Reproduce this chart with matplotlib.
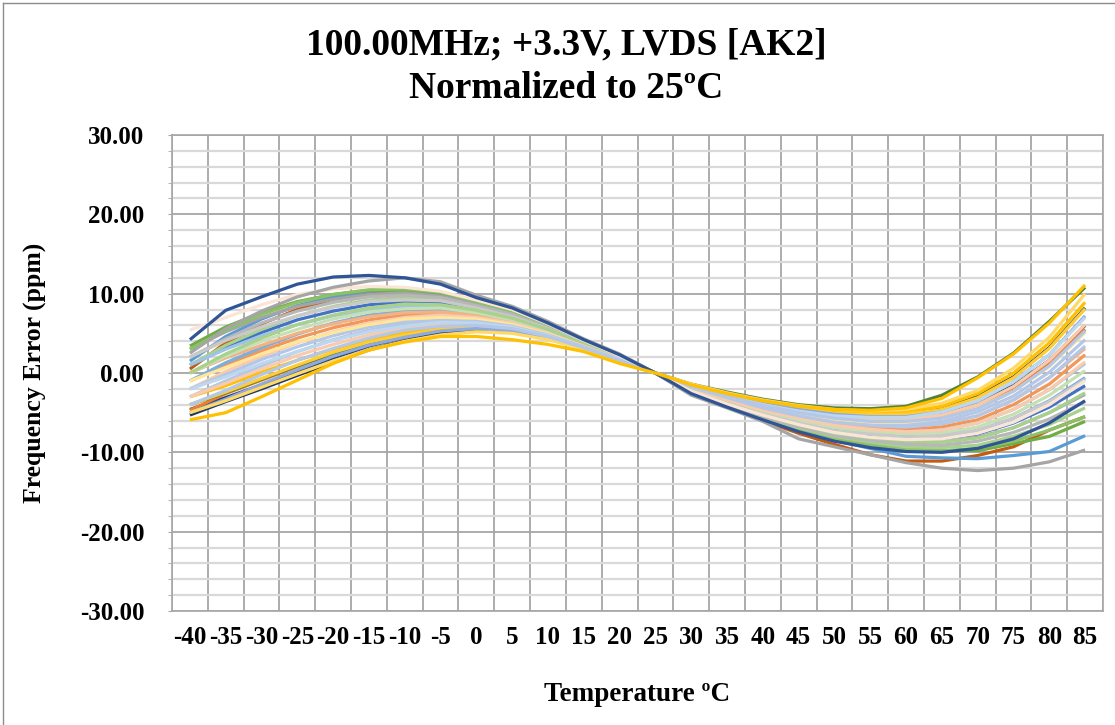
import matplotlib
matplotlib.use("Agg")
import matplotlib.pyplot as plt
from matplotlib.ticker import MultipleLocator, FixedLocator, FuncFormatter
from matplotlib.lines import Line2D

# ---------------- data ----------------
temps = [-40, -35, -30, -25, -20, -15, -10, -5, 0, 5, 10, 15, 20, 25,
         30, 35, 40, 45, 50, 55, 60, 65, 70, 75, 80, 85]
temp_labels = [str(t) for t in temps]

s_darkblue = [4.2, 7.9, 9.6, 11.2, 12.1, 12.3, 12.0, 11.2, 9.5, 8.2, 6.3, 4.2, 2.3, 0,
              -2.6, -4.3, -5.9, -7.4, -8.6, -9.4, -9.9, -10.0, -9.5, -8.3, -6.3, -3.5]
s_gray = [2.5, 5.6, 7.8, 9.6, 10.8, 11.6, 12.0, 11.5, 9.8, 8.4, 6.5, 4.3, 2.4, 0,
          -2.8, -4.4, -6.1, -8.3, -9.3, -10.3, -11.3, -12.0, -12.3, -12.0, -11.2, -9.7]
s_peach = [5.4, 7.0, 8.6, 9.9, 10.6, 10.9, 10.8, 10.3, 9.2, 8.0, 6.2, 4.1, 2.2, 0,
           -2.3, -3.9, -5.3, -6.5, -7.5, -8.1, -8.4, -8.3, -7.6, -6.2, -4.0, -1.0]
s_yellow = [-5.9, -5.0, -3.0, -0.9, 1.2, 2.9, 3.9, 4.6, 4.6, 4.2, 3.6, 2.7, 1.2, 0,
            -1.5, -2.6, -3.5, -4.2, -4.6, -4.7, -4.4, -3.2, -0.6, 2.4, 6.3, 11.1]
s_blue = [1.5, 4.6, 6.8, 8.5, 9.6, 10.3, 10.5, 10.1, 9.0, 7.8, 6.0, 4.0, 2.1, 0,
          -2.6, -4.2, -5.8, -7.3, -8.5, -9.5, -10.5, -10.7, -10.8, -10.4, -9.9, -7.9]
s_orange = [0.5, 3.8, 6.2, 8.0, 9.3, 10.0, 10.3, 10.0, 9.0, 7.8, 6.0, 4.0, 2.1, 0,
            -2.6, -4.3, -6.0, -7.6, -9.0, -10.3, -11.1, -11.1, -10.4, -9.3, -7.2, -5.5]
s_green = [3.4, 5.8, 7.6, 9.0, 9.9, 10.4, 10.4, 10.0, 9.0, 7.7, 5.9, 3.9, 2.0, 0,
           -2.5, -4.1, -5.6, -7.0, -8.2, -9.0, -9.6, -9.8, -9.8, -8.9, -8.0, -6.1]
s_navy1 = [-5.3, -3.6, -2.0, -0.3, 1.4, 2.9, 4.1, 5.0, 5.4, 5.2, 4.4, 3.1, 1.6, 0,
           -1.5, -2.6, -3.6, -4.3, -4.8, -5.1, -5.0, -4.3, -2.9, -0.5, 3.2, 8.2]
s_navy2 = [-4.6, -3.1, -1.5, 0.2, 1.9, 3.4, 4.5, 5.3, 5.6, 5.3, 4.5, 3.2, 1.6, 0,
           -1.5, -2.7, -3.7, -4.5, -5.1, -5.4, -5.4, -4.9, -3.7, -1.6, 1.6, 6.0]
s_orange2 = [-4.7, -2.6, -0.9, 0.8, 2.5, 3.9, 5.0, 5.8, 6.0, 5.6, 4.7, 3.3, 1.7, 0,
             -1.6, -2.8, -3.9, -4.8, -5.5, -5.9, -5.9, -5.4, -4.2, -2.0, 1.2, 5.5]
s_green2 = [-4.0, -2.5, -0.8, 0.9, 2.4, 3.7, 4.7, 5.4, 5.6, 5.3, 4.5, 3.2, 1.6, 0,
            -1.4, -2.4, -3.3, -4.0, -4.4, -4.5, -4.2, -2.8, -0.5, 2.5, 6.5, 10.8]

u01 = [2.0, 4.3, 6.3, 7.8, 8.9, 9.6, 9.8, 9.5, 8.5, 7.4, 5.7, 3.8, 2.0, 0,
       -2.4, -4.0, -5.5, -6.8, -7.9, -8.5, -9.0, -9.1, -8.6, -7.5, -5.8, -3.6]
u02 = [3.0, 5.2, 7.0, 8.4, 9.3, 9.9, 10.1, 9.7, 8.7, 7.4, 5.8, 3.8, 2.0, 0,
       -2.3, -4.0, -5.5, -6.7, -7.7, -8.3, -8.7, -8.7, -8.1, -6.9, -5.0, -2.7]
u03 = [1.0, 3.5, 5.5, 7.2, 8.4, 9.2, 9.5, 9.3, 8.4, 7.3, 5.7, 3.8, 2.0, 0,
       -2.4, -4.0, -5.6, -6.9, -8.0, -8.7, -9.3, -9.4, -9.1, -8.0, -6.5, -4.4]
u04 = [1.0, 3.2, 5.1, 6.7, 7.8, 8.6, 9.0, 8.9, 8.1, 7.0, 5.5, 3.7, 2.0, 0,
       -2.2, -3.8, -5.2, -6.4, -7.4, -8.0, -8.4, -8.3, -7.7, -6.3, -4.3, -1.6]
u05 = [2.0, 4.1, 5.8, 7.2, 8.3, 9.0, 9.2, 9.1, 8.2, 7.1, 5.6, 3.7, 2.0, 0,
       -2.2, -3.8, -5.2, -6.3, -7.3, -7.7, -8.1, -7.9, -7.2, -5.7, -3.6, -0.8]
u06 = [0.0, 2.4, 4.4, 6.1, 7.3, 8.2, 8.7, 8.6, 7.9, 6.9, 5.5, 3.7, 1.9, 0,
       -2.2, -3.8, -5.3, -6.5, -7.6, -8.2, -8.6, -8.7, -8.2, -6.9, -5.0, -2.5]
u07 = [0.0, 2.1, 4.0, 5.5, 6.8, 7.7, 8.1, 8.2, 7.6, 6.7, 5.3, 3.6, 1.9, 0,
       -2.1, -3.6, -4.9, -6.0, -6.9, -7.4, -7.7, -7.6, -6.8, -5.2, -2.8, 0.3]
u08 = [1.0, 3.0, 4.7, 6.1, 7.2, 8.0, 8.4, 8.4, 7.8, 6.8, 5.4, 3.6, 1.9, 0,
       -2.1, -3.6, -4.9, -5.9, -6.8, -7.2, -7.4, -7.2, -6.3, -4.6, -2.1, 1.2]
u09 = [-1.0, 1.3, 3.2, 4.9, 6.3, 7.3, 7.8, 8.0, 7.5, 6.6, 5.3, 3.6, 1.9, 0,
       -2.1, -3.6, -5.0, -6.1, -7.1, -7.6, -8.0, -7.9, -7.3, -5.7, -3.5, -0.6]
u10 = [-1.0, 1.0, 2.8, 4.4, 5.7, 6.7, 7.3, 7.5, 7.1, 6.4, 5.1, 3.5, 1.8, 0,
       -2.0, -3.4, -4.6, -5.7, -6.5, -6.9, -7.1, -6.8, -5.9, -4.0, -1.4, 2.3]
u11 = [0.0, 1.9, 3.5, 5.0, 6.2, 7.1, 7.6, 7.7, 7.3, 6.4, 5.1, 3.5, 1.8, 0,
       -1.9, -3.3, -4.6, -5.6, -6.3, -6.7, -6.8, -6.4, -5.4, -3.4, -0.6, 3.1]
u12 = [-2.0, 0.2, 2.1, 3.8, 5.2, 6.3, 7.0, 7.3, 7.0, 6.3, 5.0, 3.4, 1.8, 0,
       -2.0, -3.4, -4.7, -5.7, -6.6, -7.1, -7.4, -7.2, -6.3, -4.6, -2.1, 1.4]
u13 = [-2.0, -0.2, 1.7, 3.3, 4.7, 5.8, 6.5, 6.8, 6.6, 6.0, 4.8, 3.3, 1.7, 0,
       -1.8, -3.1, -4.3, -5.3, -6.0, -6.4, -6.5, -6.1, -4.9, -2.9, 0.1, 4.2]
u14 = [-1.0, 0.7, 2.4, 3.9, 5.1, 6.1, 6.8, 7.0, 6.8, 6.1, 4.9, 3.3, 1.7, 0,
       -1.8, -3.1, -4.3, -5.2, -5.9, -6.2, -6.2, -5.7, -4.4, -2.3, 0.8, 5.1]
u15 = [-3.0, -1.0, 0.9, 2.7, 4.2, 5.4, 6.2, 6.6, 6.5, 5.9, 4.8, 3.3, 1.7, 0,
       -1.8, -3.1, -4.4, -5.4, -6.2, -6.6, -6.8, -6.4, -5.4, -3.4, -0.6, 3.4]
u16 = [-3.0, -1.3, 0.5, 2.2, 3.6, 4.8, 5.7, 6.2, 6.2, 5.7, 4.6, 3.2, 1.7, 0,
       -1.7, -2.9, -4.0, -4.9, -5.5, -5.9, -5.9, -5.3, -4.0, -1.7, 1.6, 6.1]
u17 = [-2.0, -0.5, 1.2, 2.7, 4.1, 5.2, 5.9, 6.4, 6.3, 5.8, 4.7, 3.2, 1.7, 0,
       -1.7, -2.9, -4.0, -4.8, -5.4, -5.6, -5.6, -4.9, -3.5, -1.1, 2.3, 7.0]
u18 = [-4.0, -2.2, -0.2, 1.6, 3.1, 4.4, 5.4, 5.9, 6.0, 5.6, 4.6, 3.2, 1.6, 0,
       -1.7, -2.9, -4.1, -5.0, -5.7, -6.1, -6.1, -5.7, -4.5, -2.3, 0.9, 5.3]
u19 = [-4.0, -2.4, -0.7, 1.0, 2.6, 3.9, 4.8, 5.5, 5.7, 5.4, 4.4, 3.1, 1.6, 0,
       -1.6, -2.7, -3.7, -4.5, -5.1, -5.3, -5.2, -4.6, -3.1, -0.6, 3.1, 8.1]
u20 = [-3.0, -1.6, 0.1, 1.6, 3.0, 4.2, 5.1, 5.7, 5.9, 5.4, 4.5, 3.1, 1.6, 0,
       -1.5, -2.7, -3.7, -4.4, -4.9, -5.1, -4.9, -4.2, -2.6, 0.0, 3.8, 8.9]
u21 = [-5.0, -3.3, -1.4, 0.4, 2.1, 3.5, 4.5, 5.3, 5.6, 5.3, 4.4, 3.1, 1.6, 0,
       -1.6, -2.7, -3.8, -4.6, -5.2, -5.5, -5.5, -4.9, -3.6, -1.1, 2.3, 7.2]
u22 = [3.0, 5.4, 7.4, 8.9, 9.9, 10.5, 10.6, 10.2, 9.0, 7.7, 5.9, 3.9, 2.1, 0,
       -2.5, -4.2, -5.8, -7.2, -8.3, -9.0, -9.6, -9.8, -9.5, -8.6, -7.2, -5.5]
u23 = [-5.0, -3.5, -1.8, -0.1, 1.5, 2.9, 4.0, 4.8, 5.2, 5.0, 4.2, 3.0, 1.5, 0,
       -1.4, -2.5, -3.4, -4.1, -4.6, -4.8, -4.6, -3.8, -2.2, 0.6, 4.5, 10.0]

series = [s_orange, s_blue, s_green, s_navy1, s_navy2, s_orange2, s_green2,
          u04, u20, u02, u22, u10, u09, u19, u03, u21, u01, u11, u23,
          u08, u07, u05, u06, u12, u13, u14, u15, u16, u17, u18,
          s_peach, s_gray, s_darkblue, s_yellow]
colors = ["#C55A11", "#5B9BD5", "#70AD47", "#1F3864", "#264478", "#ED7D31", "#548235",
          "#4472C4", "#FFC000", "#A5A5A5", "#8CC168", "#F1975A", "#7CAFDD", "#FFCD33",
          "#A9D18E", "#8FAADC", "#B7B7B7", "#F4B183", "#FFD966",
          "#9DC3E6", "#C5E0B4", "#C9C9C9", "#A9D18E", "#F8CBAD", "#B4C7E7", "#FFE699",
          "#B4C7E7", "#F8CBAD", "#BDD7EE", "#B4C7E7",
          "#FBE5D6", "#A5A5A5", "#2F5597", "#FFC000"]

# ---------------- figure ----------------
W, H = 1115, 725
fig = plt.figure(figsize=(W / 100, H / 100), dpi=100)
SERIF = ["Liberation Serif", "DejaVu Serif"]

ax = fig.add_axes([172 / W, 1 - 611 / H, (1103 - 172) / W, (611 - 135) / H])
x = list(range(len(temps)))
for vals, c in zip(series, colors):
    ax.plot(x, vals, color=c, lw=2.3, solid_joinstyle="round", solid_capstyle="butt", zorder=3)

ax.set_xlim(-0.5, len(temps) - 0.5)
ax.set_ylim(-30, 30)
ax.set_xticks(x)
ax.set_xticklabels(temp_labels)
ax.xaxis.set_minor_locator(FixedLocator([i - 0.5 for i in range(len(temps) + 1)]))
ax.yaxis.set_major_locator(MultipleLocator(10))
ax.yaxis.set_minor_locator(MultipleLocator(2))
ax.yaxis.set_major_formatter(FuncFormatter(lambda v, p: f"{v:.2f}".replace("\u2212", "-")))

ax.grid(which="minor", axis="y", color="#D9D9D9", lw=1.6, zorder=0)
ax.grid(which="major", axis="y", color="#A6A6A6", lw=1.3, zorder=1)
ax.grid(which="minor", axis="x", color="#A6A6A6", lw=1.3, zorder=1)
ax.set_axisbelow(True)

for sp in ax.spines.values():
    sp.set_color("#A6A6A6")
    sp.set_linewidth(1.2)

ax.tick_params(axis="x", which="both", length=0, pad=11)
ax.tick_params(axis="y", which="both", length=3, color="#A6A6A6", pad=17, direction="out")
for lab in ax.get_xticklabels() + ax.get_yticklabels():
    lab.set_fontfamily(SERIF)
    lab.set_fontweight("bold")
    lab.set_fontsize(18)

ax.set_ylabel("Frequency Error (ppm)", family=SERIF, fontweight="bold", fontsize=18.5)
ax.yaxis.set_label_coords((47 - 172) / (1103 - 172), 0.5)
ax.set_xlabel("Temperature \u00baC", family=SERIF, fontweight="bold", fontsize=19.5)
ax.xaxis.set_label_coords(0.5, -(682 - 611) / (611 - 135))

fig.text(566 / W, 1 - 45 / H, "100.00MHz; +3.3V, LVDS [AK2]", ha="center", va="center",
         family=SERIF, fontweight="bold", fontsize=27)
fig.text(566 / W, 1 - 88 / H, "Normalized to 25\u00baC", ha="center", va="center",
         family=SERIF, fontweight="bold", fontsize=27)

# chart-area border
fig.add_artist(Line2D([3 / W, 3 / W], [0, 1 - 3 / H], transform=fig.transFigure, color="#8C8C8C", lw=1))
fig.add_artist(Line2D([3 / W, 1], [1 - 3 / H, 1 - 3 / H], transform=fig.transFigure, color="#8C8C8C", lw=1))

fig.savefig("out.png", dpi=100)
